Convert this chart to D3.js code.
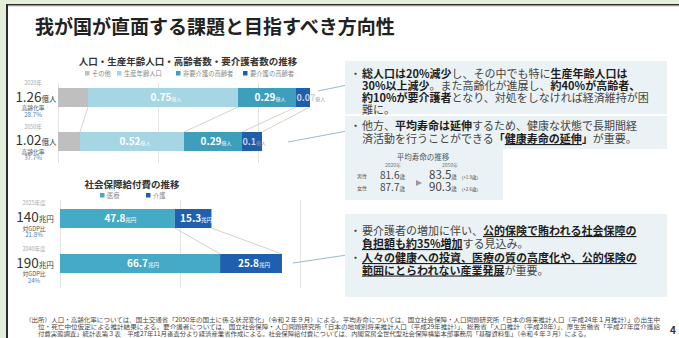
<!DOCTYPE html>
<html lang="ja">
<head>
<meta charset="utf-8">
<script src="https://d3js.org/d3.v7.min.js"></script>
<style>
body { margin: 0; background: #fff; }
svg text { font-family: "Noto Sans CJK JP", "Noto Sans", sans-serif; }
</style>
</head>
<body>
<div id="slide"></div>
<script>
// 人口の推移 (億人)
var popYears = ["2020年", "2050年"];
var popTotals = ["1.26", "1.02"];
var agingRates = ["28.7%", "37.7%"];
var popKeys = ["その他", "生産年齢人口", "非要介護の高齢者", "要介護の高齢者"];
var popOther = [0.15, 0.11];
var popWorking = [0.75, 0.52];
var popElderly = [0.29, 0.29];
var popCare = [0.07, 0.1];
var popTicks = [0, 0.5, 1];

// 社会保障給付費 (兆円)
var costYears = ["2025年度", "2040年度"];
var costTotals = ["140", "190"];
var gdpRates = ["21.8%", "24%"];
var costKeys = ["医療", "介護"];
var costMedical = [47.8, 66.7];
var costCare = [15.3, 25.8];
var costTicks = [0, 50, 100];

// 平均寿命 (歳)
var lifeYears = ["2020年", "2050年"];
var lifeSex = ["男性", "女性"];
var life2020 = [81.6, 87.7];
var life2050 = [83.5, 90.3];
var lifeGain = ["+1.9", "+2.6"];

var popColors = ["#bfbfbf", "#a6d6e4", "#3e9fbd", "#1f5ea9"];
var costColors = ["#45aac5", "#1f60ae"];

var width = 679, height = 338;

var svg = d3.select("#slide").append("svg")
    .attr("width", width)
    .attr("height", height);

// frame
svg.append("rect").attr("x", 0).attr("y", 0).attr("width", width).attr("height", 4).attr("fill", "#e3efd8");
svg.append("rect").attr("x", 0).attr("y", 0).attr("width", 6).attr("height", height).attr("fill", "#e3efd8");
svg.append("rect").attr("x", 6).attr("y", 4).attr("width", 2).attr("height", height).attr("fill", "#2b2b2b");
svg.append("rect").attr("x", 6).attr("y", 4).attr("width", width).attr("height", 1.5).attr("fill", "#2b2b2b");
svg.append("rect").attr("x", 8).attr("y", 5.5).attr("width", width).attr("height", 0.8).attr("fill", "#999");

svg.append("text")
    .attr("x", 35).attr("y", 34)
    .style("font-size", "19px").style("font-weight", "bold")
    .attr("fill", "#222")
    .text("我が国が直面する課題と目指すべき方向性");

// ---------- chart 1 : population ----------
var x1 = d3.scaleLinear().domain([0, 1]).range([58, 258]);
var y1 = d3.scaleBand().domain(popYears).range([88, 151]).paddingInner(0.568);

var popRows = popYears.map(function(y, i) {
    return {year: y, "その他": popOther[i], "生産年齢人口": popWorking[i],
            "非要介護の高齢者": popElderly[i], "要介護の高齢者": popCare[i]};
});
var popStack = d3.stack().keys(popKeys)(popRows);

var c1 = svg.append("g");

c1.append("text").attr("x", 188).attr("y", 65)
    .attr("text-anchor", "middle")
    .style("font-size", "9.5px").style("font-weight", "bold").attr("fill", "#333")
    .text("人口・生産年齢人口・高齢者数・要介護者数の推移");

var leg1X = [85, 117, 176, 243];
popKeys.forEach(function(k, i) {
    c1.append("rect").attr("x", leg1X[i]).attr("y", 71).attr("width", 4.5).attr("height", 4.5).attr("fill", popColors[i]);
    c1.append("text").attr("x", leg1X[i] + 7).attr("y", 75.5)
        .style("font-size", "6.3px").attr("fill", "#8a8a8a").text(k);
});

c1.append("g")
    .attr("transform", "translate(0,83)")
    .call(d3.axisBottom(x1).tickValues(popTicks).tickSize(80).tickFormat(""))
    .call(function(g) {
        g.select(".domain").remove();
        g.selectAll("line").attr("stroke", "#e4e4e4");
    });

// connectors between bars
popStack.forEach(function(layer) {
    c1.append("line")
        .attr("x1", x1(layer[0][1])).attr("y1", y1(popYears[0]) + y1.bandwidth())
        .attr("x2", x1(layer[1][1])).attr("y2", y1(popYears[1]))
        .attr("stroke", "#d6ccc4").attr("stroke-width", 0.9);
});

popStack.forEach(function(layer, li) {
    c1.selectAll(null).data(layer).enter().append("rect")
        .attr("x", function(d) { return x1(d[0]); })
        .attr("y", function(d) { return y1(d.data.year); })
        .attr("width", function(d) { return x1(d[1]) - x1(d[0]); })
        .attr("height", y1.bandwidth())
        .attr("fill", popColors[li]);
});

popStack.forEach(function(layer, li) {
    if (li == 0) return;
    layer.forEach(function(d) {
        var w = x1(d[1]) - x1(d[0]);
        var small = w < 25;
        var t = c1.append("text")
            .attr("x", small ? x1(d[0]) + 0.5 : (x1(d[0]) + x1(d[1])) / 2 + 3)
            .attr("y", y1(d.data.year) + y1.bandwidth() / 2 + 3.5)
            .attr("text-anchor", small ? "start" : "middle")
            .attr("fill", small ? "#c9d4e2" : "#fff");
        t.append("tspan").style("font-size", small ? "9px" : "10px").style("font-weight", "bold")
            .text(d3.format(".2~f")(d[1] - d[0]));
        t.append("tspan").style("font-size", "5px").attr("fill", small ? "#999" : "#fff").text("億人");
    });
});

popYears.forEach(function(y, i) {
    var cy = y1(y) + y1.bandwidth() / 2;
    c1.append("text").attr("x", 33).attr("y", cy - 12.5).attr("text-anchor", "middle")
        .style("font-size", "5.5px").attr("fill", "#aaa").text(y);
    var t = c1.append("text").attr("x", 36).attr("y", cy + 4).attr("text-anchor", "middle").attr("fill", "#333");
    t.append("tspan").style("font-size", "13.5px").text(popTotals[i]);
    t.append("tspan").style("font-size", "7.5px").text("億人");
    c1.append("text").attr("x", 33).attr("y", cy + 12.5).attr("text-anchor", "middle")
        .style("font-size", "5.8px").attr("fill", "#555").text("高齢化率");
    c1.append("text").attr("x", 33).attr("y", cy + 19).attr("text-anchor", "middle")
        .style("font-size", "6.2px").attr("fill", "#4a7fc0").text(agingRates[i]);
});

// ---------- chart 2 : social security cost ----------
var x2 = d3.scaleLinear().domain([0, 100]).range([60, 300]);
var y2 = d3.scaleBand().domain(costYears).range([209, 273]).paddingInner(0.578);

var costRows = costYears.map(function(y, i) {
    return {year: y, "医療": costMedical[i], "介護": costCare[i]};
});
var costStack = d3.stack().keys(costKeys)(costRows);

var c2 = svg.append("g");

c2.append("text").attr("x", 132).attr("y", 188)
    .attr("text-anchor", "middle")
    .style("font-size", "9.5px").style("font-weight", "bold").attr("fill", "#333")
    .text("社会保障給付費の推移");

var leg2X = [100, 146];
costKeys.forEach(function(k, i) {
    c2.append("rect").attr("x", leg2X[i]).attr("y", 193).attr("width", 4.5).attr("height", 4.5).attr("fill", costColors[i]);
    c2.append("text").attr("x", leg2X[i] + 7).attr("y", 197.5)
        .style("font-size", "6.3px").attr("fill", "#8a8a8a").text(k);
});

c2.append("g")
    .attr("transform", "translate(0,200)")
    .call(d3.axisBottom(x2).tickValues(costTicks).tickSize(88).tickFormat(""))
    .call(function(g) {
        g.select(".domain").remove();
        g.selectAll("line").attr("stroke", "#e4e4e4");
    });

costStack.forEach(function(layer) {
    c2.append("line")
        .attr("x1", x2(layer[0][1])).attr("y1", y2(costYears[0]) + y2.bandwidth())
        .attr("x2", x2(layer[1][1])).attr("y2", y2(costYears[1]))
        .attr("stroke", "#d6ccc4").attr("stroke-width", 0.9);
});

costStack.forEach(function(layer, li) {
    c2.selectAll(null).data(layer).enter().append("rect")
        .attr("x", function(d) { return x2(d[0]); })
        .attr("y", function(d) { return y2(d.data.year); })
        .attr("width", function(d) { return x2(d[1]) - x2(d[0]); })
        .attr("height", y2.bandwidth())
        .attr("fill", costColors[li]);
});

costStack.forEach(function(layer, li) {
    layer.forEach(function(d) {
        var t = c2.append("text")
            .attr("x", (x2(d[0]) + x2(d[1])) / 2 + 3)
            .attr("y", y2(d.data.year) + y2.bandwidth() / 2 + 3.5)
            .attr("text-anchor", "middle")
            .attr("fill", "#fff");
        t.append("tspan").style("font-size", "10px").style("font-weight", "bold")
            .text(d3.format(".1f")(d[1] - d[0]));
        t.append("tspan").style("font-size", "5.5px").text("兆円");
    });
});

costYears.forEach(function(y, i) {
    var cy = y2(y) + y2.bandwidth() / 2;
    c2.append("text").attr("x", 34).attr("y", cy - 13).attr("text-anchor", "middle")
        .style("font-size", "5.5px").attr("fill", "#aaa").text(y);
    var t = c2.append("text").attr("x", 35).attr("y", cy + 4).attr("text-anchor", "middle").attr("fill", "#333");
    t.append("tspan").style("font-size", "13.5px").text(costTotals[i]);
    t.append("tspan").style("font-size", "7.5px").text("兆円");
    c2.append("text").attr("x", 34).attr("y", cy + 12.5).attr("text-anchor", "middle")
        .style("font-size", "5.8px").attr("fill", "#555").text("対GDP比");
    c2.append("text").attr("x", 34).attr("y", cy + 19).attr("text-anchor", "middle")
        .style("font-size", "6.2px").attr("fill", "#4a7fc0").text(gdpRates[i]);
});

// pointer lines to the notes
var pointers = [[318, 91, 347, 85], [288, 142, 347, 131], [293, 263, 347, 255]];
pointers.forEach(function(p) {
    svg.append("line").attr("x1", p[0]).attr("y1", p[1]).attr("x2", p[2]).attr("y2", p[3])
        .attr("stroke", "#8fb3c4").attr("stroke-width", 0.9);
});

// ---------- notes ----------
var boxFill = "#eaf2f5";
svg.append("rect").attr("x", 345).attr("y", 61).attr("width", 322).attr("height", 53).attr("fill", boxFill);
svg.append("rect").attr("x", 345).attr("y", 116).attr("width", 322).attr("height", 33).attr("fill", boxFill);
svg.append("rect").attr("x", 345).attr("y", 149).attr("width", 158).attr("height", 51).attr("fill", boxFill);
svg.append("rect").attr("x", 345).attr("y", 214).attr("width", 322).attr("height", 83).attr("fill", boxFill);

function richLine(x, y, parts) {
    var t = svg.append("text").attr("x", x).attr("y", y)
        .style("font-size", "11px").attr("fill", "#444");
    parts.forEach(function(p) {
        var s = t.append("tspan").text(p[0]);
        if (p[1]) s.style("font-weight", "bold").attr("fill", "#1e1e1e");
        if (p[1] == "bu") s.style("text-decoration", "underline");
    });
}
function bullet(y) {
    svg.append("text").attr("x", 350).attr("y", y).style("font-size", "11px").attr("fill", "#444").text("・");
}

bullet(78);
richLine(362, 78, [["総人口は20%減少", "b"], ["し、その中でも特に"], ["生産年齢人口は", "b"]]);
richLine(362, 90, [["30%以上減少", "b"], ["。また高齢化が進展し、"], ["約40%が高齢者、", "b"]]);
richLine(362, 102, [["約10%が要介護者", "b"], ["となり、対処をしなければ経済維持が困"]]);
richLine(362, 113.5, [["難に。"]]);

bullet(130);
richLine(362, 130, [["他方、"], ["平均寿命は延伸", "b"], ["するため、健康な状態で長期間経"]]);
richLine(362, 143, [["済活動を行うことができる"], ["「", "b"], ["健康寿命の延伸", "bu"], ["」", "b"], ["が重要。"]]);

bullet(235);
richLine(362, 235, [["要介護者の増加に伴い、"], ["公的保険で賄われる社会保障の", "bu"]]);
richLine(362, 248, [["負担額も約35%増加", "bu"], ["する見込み。"]]);
bullet(262);
richLine(362, 262, [["人々の健康への投資、医療の質の高度化や、公的保険の", "bu"]]);
richLine(362, 274.5, [["範囲にとらわれない産業発展", "bu"], ["が重要。"]]);

// life expectancy table
var lx = [393, 450];
svg.append("text").attr("x", 423).attr("y", 160).attr("text-anchor", "middle")
    .style("font-size", "7.5px").attr("fill", "#555").text("平均寿命の推移");
lifeYears.forEach(function(y, i) {
    svg.append("text").attr("x", lx[i]).attr("y", 167).attr("text-anchor", "middle")
        .style("font-size", "5px").attr("fill", "#777").text(y);
});
lifeSex.forEach(function(s, i) {
    var yy = 179 + i * 12;
    svg.append("text").attr("x", 357).attr("y", yy - 1).style("font-size", "5px").attr("fill", "#555").text(s);
    var a = svg.append("text").attr("x", 380).attr("y", yy).attr("fill", "#444");
    a.append("tspan").style("font-size", "10px").text(life2020[i]);
    a.append("tspan").style("font-size", "5.5px").text("歳");
    var b = svg.append("text").attr("x", 429).attr("y", yy).attr("fill", "#444");
    b.append("tspan").style("font-size", "11.5px").text(life2050[i]);
    b.append("tspan").style("font-size", "5.5px").text("歳");
    b.append("tspan").style("font-size", "4.5px").attr("dx", 2).text("（" + lifeGain[i] + "歳）");
});
svg.append("path").attr("d", "M416,180 L422,183 L416,186 Z").attr("fill", "#999");

// source
var notes = [
    "（出所）人口・高齢化率については、国土交通省「2050年の国土に係る状況変化」（令和２年９月）による。平均寿命については、国立社会保障・人口問題研究所「日本の将来推計人口（平成24年１月推計）」の出生中",
    "位・死亡中位仮定による推計結果による。要介護者については、国立社会保障・人口問題研究所「日本の地域別将来推計人口（平成29年推計）」、総務省「人口推計（平成28年）」、厚生労働省「平成27年度介護給",
    "付費実態調査」統計表第３表　平成27年11月審査分より経済産業省作成による。社会保障給付費については、内閣官房全世代型社会保障構築本部事務局「基礎資料集」（令和４年３月）による。"
];
var noteX = [25, 38, 38], noteW = [635, 622, 552];
notes.forEach(function(n, i) {
    svg.append("text").attr("x", noteX[i]).attr("y", 322 + i * 7)
        .attr("textLength", noteW[i]).attr("lengthAdjust", "spacingAndGlyphs")
        .style("font-size", "5.8px").attr("fill", "#444").text(n);
});

svg.append("text").attr("x", 670).attr("y", 334).style("font-size", "10px").style("font-weight", "bold")
    .attr("fill", "#333").text("4");
</script>
</body>
</html>
